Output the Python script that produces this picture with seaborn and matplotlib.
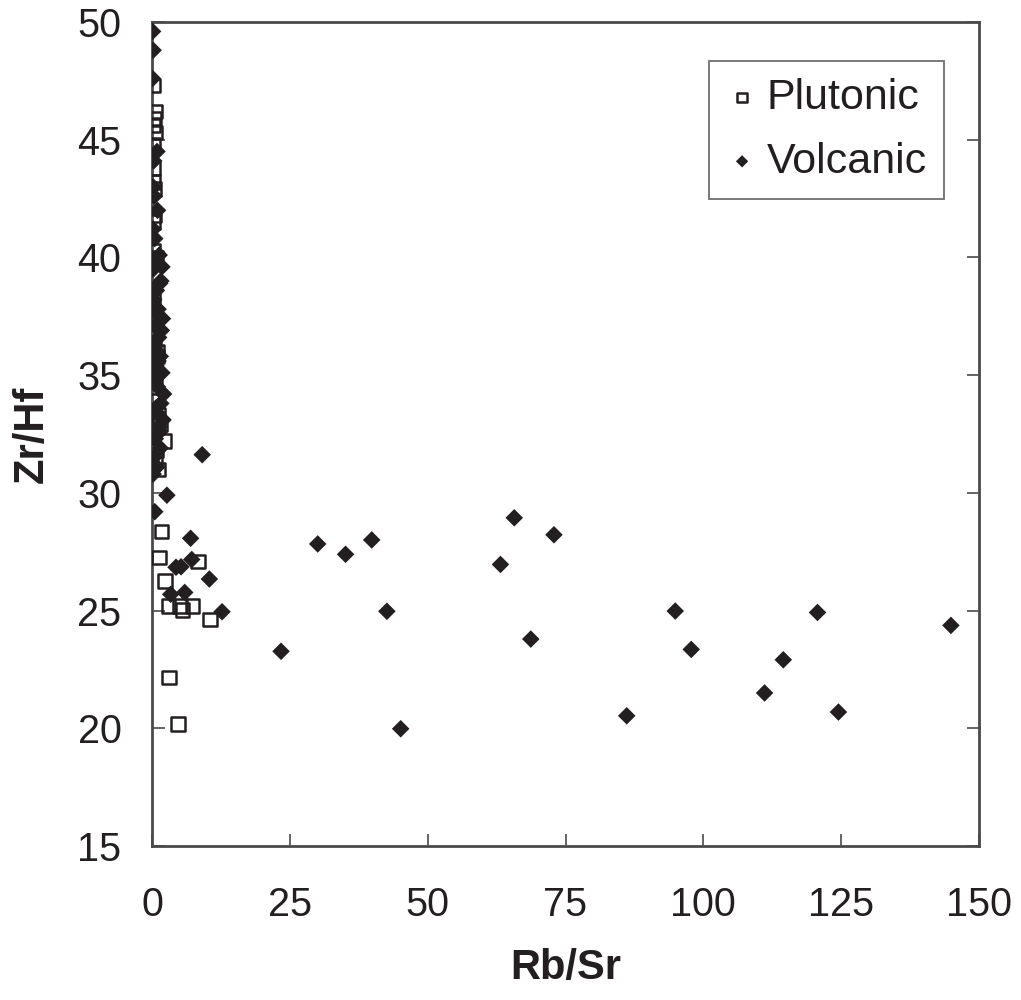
import matplotlib
matplotlib.use("Agg")
import matplotlib.pyplot as plt
import seaborn as sns
import pandas as pd

# ---- data ----
plutonic_rbsr = [0.3, 0.5, 0.4, 0.3, 0.5, 0.2, 0.3, 0.2, 0.4, 0.3, 0.2, 0.5, 0.4, 0.2,
                 0.3, 0.6, 0.2, 0.4, 0.9, 0.3, 0.6, 0.2, 1.2, 2.2, 0.8, 0.5, 1.1,
                 0.7, 1.0, 0.4, 1.4,
                 1.75, 1.27, 8.35, 2.36, 2.96, 5.08, 5.5, 7.38, 10.5, 3.08, 4.72]
plutonic_zrhf = [47.3, 46.2, 45.9, 45.6, 45.3, 44.8, 43.8, 43.2, 41.8, 41.5, 40.3, 39.9, 39.2, 38.5,
                 38.0, 37.5, 36.8, 36.2, 35.8, 35.5, 34.9, 33.9, 33.3, 32.2, 31.8, 31.4, 31.0,
                 40.0, 36.0, 42.9, 32.9,
                 28.36, 27.26, 27.09, 26.25, 25.20, 25.20, 25.02, 25.19, 24.63, 22.16, 20.18]

volcanic_rbsr = [0.1, 0.2, 0.1, 0.9, 0.3, 0.2, 0.4, 1.0, 0.2, 0.5, 1.3, 0.6, 0.2, 1.6,
                 0.8, 0.3, 1.1, 1.9, 0.5, 1.2, 0.3, 1.5, 0.7, 1.8, 0.4, 1.0, 1.6, 0.9,
                 2.0, 1.3, 0.6, 1.5, 0.3, 0.9, 0.2,
                 1.4, 0.8, 1.7, 1.1, 2.1, 0.7, 1.4, 1.8,
                 9.1, 2.7, 0.5, 7.0, 30.05, 35.1, 39.85, 7.2, 4.35, 5.26, 10.4, 3.39,
                 5.93, 12.7, 42.6, 23.4, 45.1,
                 65.7, 72.9, 63.2, 68.7, 94.9, 97.8, 86.1,
                 120.7, 114.5, 111.1, 124.5, 144.9]
volcanic_zrhf = [49.6, 48.8, 47.6, 44.5, 44.1, 43.0, 42.6, 42.0, 41.2, 40.8, 40.1, 39.8, 39.5, 39.0,
                 38.6, 38.2, 37.8, 37.4, 37.1, 36.6, 36.2, 35.8, 35.4, 35.1, 34.8, 34.5, 33.8, 33.4,
                 33.1, 32.8, 32.3, 31.9, 31.5, 31.1, 30.8,
                 38.9, 37.6, 36.9, 35.6, 34.2, 33.6, 32.6, 39.6,
                 31.62, 29.9, 29.2, 28.07, 27.83, 27.39, 28.0, 27.17, 26.84, 26.86, 26.34, 25.69,
                 25.77, 24.95, 24.97, 23.27, 19.98,
                 28.94, 28.22, 26.96, 23.79, 24.98, 23.35, 20.53,
                 24.92, 22.91, 21.5, 20.69, 24.37]

x_ticks = [0, 25, 50, 75, 100, 125, 150]
y_ticks = [15, 20, 25, 30, 35, 40, 45, 50]
x_label = "Rb/Sr"
y_label = "Zr/Hf"
series_names = ["Plutonic", "Volcanic"]

df_p = pd.DataFrame({"Rb/Sr": plutonic_rbsr, "Zr/Hf": plutonic_zrhf})
df_v = pd.DataFrame({"Rb/Sr": volcanic_rbsr, "Zr/Hf": volcanic_zrhf})

sns.set_style("white")
plt.rcParams["font.family"] = ["Liberation Sans", "DejaVu Sans"]

INK = "#231f20"
SPINE = "#4a4a4a"

fig = plt.figure(figsize=(10.21, 10.0), dpi=100)
ax = fig.add_axes([0.1489, 0.154, 0.8100, 0.824])

sns.scatterplot(data=df_p, x="Rb/Sr", y="Zr/Hf", ax=ax, marker="s", s=95,
                facecolors="none", edgecolor=INK, linewidth=1.8, label=series_names[0],
                zorder=3)
sns.scatterplot(data=df_v, x="Rb/Sr", y="Zr/Hf", ax=ax, marker="D", s=80,
                color=INK, edgecolor="none", linewidth=0, label=series_names[1],
                zorder=4)

ax.set_xlim(0, 150)
ax.set_ylim(15, 50)
ax.set_xticks(x_ticks)
ax.set_yticks(y_ticks)
ax.tick_params(axis="both", direction="in", length=9, width=1.2, color=SPINE,
               labelsize=28.5, labelcolor=INK)
ax.tick_params(axis="y", pad=22, right=True, left=True)
ax.tick_params(axis="x", pad=29, top=False, bottom=True)

for sp in ax.spines.values():
    sp.set_visible(True)
    sp.set_color(SPINE)
    sp.set_linewidth(2.0)

ax.set_xlabel(x_label, fontsize=30, fontweight="bold", color=INK, labelpad=17)
ax.set_ylabel(y_label, fontsize=30, fontweight="bold", color=INK, labelpad=18)

leg = ax.legend(loc="upper right", bbox_to_anchor=(0.958, 0.953), fontsize=31,
                frameon=True, fancybox=False, markerscale=0.7, handletextpad=0.2,
                borderpad=0.4, labelspacing=0.55, handlelength=0.75, borderaxespad=0)
leg.get_frame().set_edgecolor(SPINE)
leg.get_frame().set_linewidth(1.3)
for t in leg.get_texts():
    t.set_color(INK)

fig.savefig("out.png", dpi=100)
